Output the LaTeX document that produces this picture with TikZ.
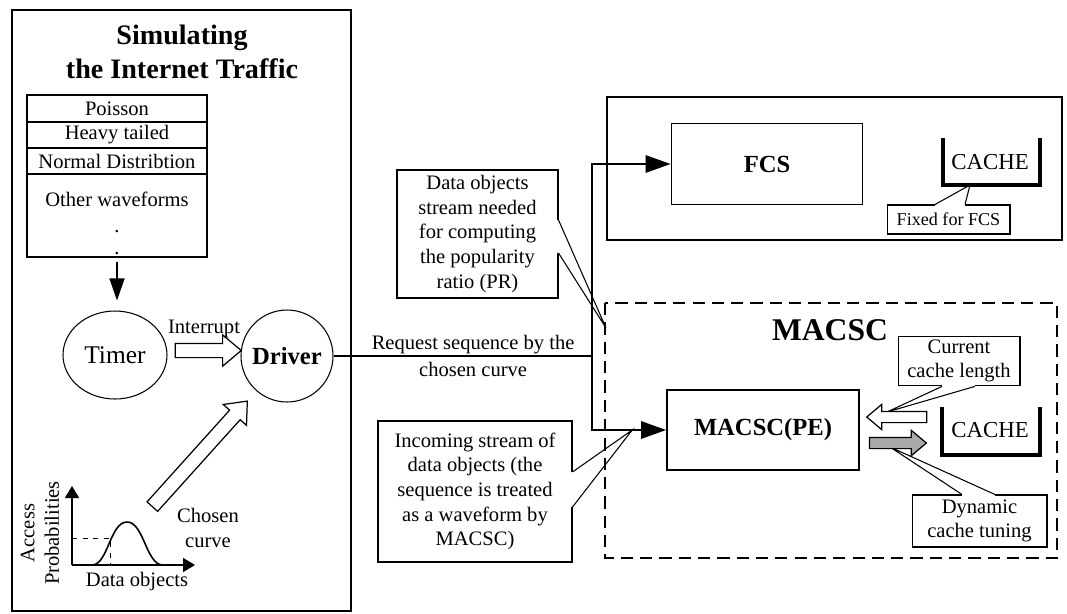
\documentclass[tikz,border=0pt]{standalone}
\usepackage{fontspec}
\setmainfont{Liberation Serif}
\usepackage{tikz}
\usetikzlibrary{arrows.meta, positioning, calc, shapes.geometric, shapes.arrows}
\definecolor{tunegray}{HTML}{A9A9A9}
% 标注框的指针：底边两点 #1 #3，尖端 #2，#4 为遮住边框的偏移
\newcommand{\calloutptr}[4]{%
  \fill[white] ($(#1)+(#4)$) -- ($(#1)-(#4)$) -- ($(#3)-(#4)$) -- ($(#3)+(#4)$) -- cycle;
  \draw[line width=0.6pt] (#1) -- (#2) -- (#3);}

\begin{document}
\begin{tikzpicture}[x=0.02cm, y=0.02cm, font=\fontsize{11.7}{14}\selectfont, >={Triangle[length=4.4mm, width=3mm]},
  panel/.style={draw, line width=1.1pt},
  row/.style={draw, line width=0.8pt, minimum width=3.6cm, inner sep=0pt, outer sep=0pt},
  procbox/.style={draw, line width=0.9pt, font=\fontsize{14}{16}\selectfont\bfseries},
  note/.style={draw, line width=0.6pt, align=center, inner sep=2pt},
  hollow/.style={single arrow, draw, line width=0.7pt, fill=white, inner xsep=0pt, inner ysep=0.13cm, single arrow head extend=0.17cm, single arrow tip angle=80, single arrow head indent=0pt},
  slim/.style={inner ysep=0.1cm, single arrow head extend=0.14cm},
  cachewall/.style={line width=2.2pt},
  titletext/.style={font=\fontsize{16}{19}\selectfont\bfseries, align=center}]
\useasboundingbox (0,0) rectangle (1067,-613);
% —— 左侧：流量模拟 ——
\draw[panel] (12,-10) rectangle (351,-611);
\node[titletext] (simtitle) at (182,-52){Simulating\\the Internet Traffic};
\node[row, minimum height=0.54cm] (poisson) at (117,-108.5){Poisson};
\node[row, minimum height=0.52cm, below=0pt of poisson] (heavy){Heavy tailed};
\node[row, minimum height=0.52cm, below=0pt of heavy] (normal){Normal Distribtion};
\node[row, minimum height=1.66cm, below=0pt of normal] (other){};
\node[below=6.5pt of other.north] (otherlbl){Other waveforms};
\node (dotA) at ($(other.center)+(0,-16)$){.};
\node (dotB) at ($(other.center)+(0,-38)$){.};
\node[draw, ellipse, line width=0.6pt, minimum width=2.08cm, minimum height=1.76cm, font=\fontsize{14.5}{16}\selectfont] (timer) at (115,-355){Timer};
\node[draw, circle, line width=0.6pt, minimum size=1.84cm, inner sep=0pt, font=\fontsize{14}{16}\selectfont\bfseries] (driver) at (287,-356){Driver};
\draw[->, line width=0.8pt, shorten <=0.1cm, shorten >=0.2cm] (other.south) -- (other.south |- timer.north);
\node[hollow, minimum height=1.32cm] (intarrow) at ($(timer.east)!0.5!(driver.west)+(0,5)$){};
\node[above=-1pt of intarrow] (intlbl){Interrupt};
\node[hollow, minimum height=2.84cm, rotate=48] (pickarrow) at (197,-457){};
\node[align=center] (chosen) at (208,-528){Chosen\\curve};
% 访问概率曲线
\coordinate (origin) at (72,-565);
\draw[-{Triangle[length=2.4mm, width=2.8mm]}, line width=0.8pt] (origin) -- (72,-486);
\draw[-{Triangle[length=2.4mm, width=2.8mm]}, line width=0.8pt] (origin) -- (195,-565);
\draw[line width=0.9pt] (92,-565) .. controls (108,-565) and (110,-522) .. (127,-522) .. controls (144,-522) and (146,-565) .. (163,-565);
\draw[dashed, line width=0.5pt] (72,-538) -- (110,-538) -- (110,-565);
\node[rotate=90, align=center] (ylbl) at (40,-533){Access\\Probabilities};
\node (xlbl) at (137,-582){Data objects};
% —— 右上：FCS ——
\draw[panel] (607,-97) rectangle (1062,-240);
\node[procbox, minimum width=3.82cm, minimum height=1.62cm] (fcs) at (767,-164){FCS};
\node[font=\fontsize{13}{15}\selectfont] (cacheA) at (990,-162){CACHE};
\draw[cachewall] (943,-138) |- (1040,-185) -- (1040,-138);
\node[note, font=\fontsize{10.3}{12}\selectfont, minimum width=2.46cm, minimum height=0.58cm] (fixednote) at (948.5,-219.5){Fixed for FCS};
\coordinate (fx1) at ($(fixednote.north)+(-13.5,0)$);
\coordinate (fx2) at ($(fixednote.north)+(16.5,0)$);
\coordinate (fxtip) at (970,-185);
\calloutptr{fx1}{fxtip}{fx2}{0,1.5}
% —— 右下：MACSC ——
\draw[line width=1.2pt, dash pattern=on 7pt off 4pt] (605,-303) rectangle (1057,-558);
\node[titletext, font=\fontsize{18}{20}\selectfont\bfseries] (macsctitle) at (830,-330){MACSC};
\node[procbox, minimum width=3.84cm, minimum height=1.6cm] (pe) at (763,-430){MACSC(PE)};
\node[font=\fontsize{13}{15}\selectfont] (cacheB) at (990,-430){CACHE};
\draw[cachewall] (942,-407) |- (1040,-455) -- (1040,-407);
\node[note, minimum width=2.44cm, minimum height=0.92cm] (lennote) at (959,-361){Current\\cache length};
\node[note, minimum width=2.7cm, minimum height=1.04cm] (tunenote) at (979.5,-521){Dynamic\\cache tuning};
\coordinate (ln1) at ($(lennote.south)+(-17,0)$);
\coordinate (ln2) at ($(lennote.south)+(16,0)$);
\coordinate (lntip) at (887,-412);
\calloutptr{ln1}{lntip}{ln2}{0,1.5}
\coordinate (tn1) at ($(tunenote.north)+(-17.5,0)$);
\coordinate (tn2) at ($(tunenote.north)+(15.5,0)$);
\coordinate (tntip) at (890,-447);
\calloutptr{tn1}{tntip}{tn2}{0,1.5}
\node[hollow, slim, minimum height=1.2cm, shape border rotate=180, anchor=tip] (lenarrow) at ($(pe.east)+(6,13)$){};
\node[hollow, slim, fill=tunegray, minimum height=1.14cm, anchor=tail] (tunearrow) at ($(pe.east)+(9,-13)$){};
% —— 请求序列 ——
\coordinate (split) at (592,-356);
\draw[line width=1.6pt] (driver.east) -- node[pos=0.54, align=center]{Request sequence by the\\[1pt]chosen curve} (split);
\draw[{Triangle[length=5mm, width=3.4mm]}-{Triangle[length=5mm, width=3.4mm]}, line width=1.6pt] (fcs.west) -| (split) |- (pe.west);
% 左侧两个标注
\node[note, minimum width=3.22cm, minimum height=2.56cm] (prnote) at (477.5,-234){Data objects\\stream needed\\for computing\\the popularity\\ratio (PR)};
\coordinate (pr1) at ($(prnote.east)+(0,14)$);
\coordinate (pr2) at ($(prnote.east)+(0,-19)$);
\coordinate (prtip) at (606,-328);
\calloutptr{pr1}{prtip}{pr2}{1.5,0}
\node[note, minimum width=3.88cm, minimum height=2.82cm] (innote) at (475,-491.5){Incoming stream of\\data objects (the\\sequence is treated\\as a waveform by\\MACSC)};
\coordinate (in1) at ($(innote.east)+(0,19.5)$);
\coordinate (in2) at ($(innote.east)+(0,-15.5)$);
\coordinate (intip) at ($(pe.west)+(-34,0)$);
\calloutptr{in1}{intip}{in2}{1.5,0}
\end{tikzpicture}
\end{document}
